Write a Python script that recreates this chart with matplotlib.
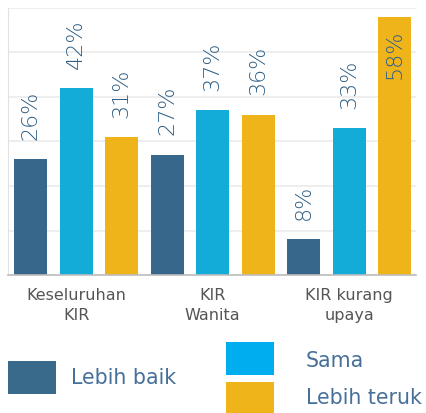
import numpy as np
import matplotlib.pyplot as plt
from matplotlib.patches import Rectangle

# data
groups = ["Keseluruhan\nKIR", "KIR\nWanita", "KIR kurang\nupaya"]
series = ["Lebih baik", "Sama", "Lebih teruk"]
lebih_baik = [26, 27, 8]
sama = [42, 37, 33]
lebih_teruk = [31, 36, 58]

colors = ["#37688b", "#13acd8", "#f0b41b"]
legend_colors = ["#3a6a8b", "#00aeef", "#f0b41b"]
label_color = "#2f5f85"

fig = plt.figure(figsize=(4.27, 4.13), dpi=100)
ax = fig.add_axes([0.0187, 0.334, 0.9553, 0.647])

vals = np.array([lebih_baik, sama, lebih_teruk])  # series x group
n_series, n_groups = vals.shape
for s in range(n_series):
    for g in range(n_groups):
        x = g * n_series + s
        v = vals[s, g]
        ax.bar(x, v, width=0.725, color=colors[s], zorder=2)
        if v + 12 > 60:
            ax.annotate(f"{v}%", (x, 60), xytext=(0, -16), textcoords="offset points",
                        rotation=90, ha="center", va="top", fontsize=16,
                        color=label_color, fontweight="light")
        else:
            ax.annotate(f"{v}%", (x, v), xytext=(0, 14), textcoords="offset points",
                        rotation=90, ha="center", va="bottom", fontsize=16,
                        color=label_color, fontweight="light")

ax.set_xlim(-0.5, 8.47)
ax.set_ylim(0, 60)
ax.set_yticks(np.arange(0, 61, 10))
ax.set_yticklabels([])
ax.yaxis.grid(True, color="#ebebeb", linewidth=1.2, zorder=0)
ax.tick_params(axis="y", length=0)
ax.set_xticks([1, 4, 7])
ax.set_xticklabels(groups, fontsize=11.5, color="#555555", linespacing=1.45)
ax.tick_params(axis="x", length=0, pad=9)
for side in ["top", "right"]:
    ax.spines[side].set_visible(False)
ax.spines["left"].set_color("#e2e2e2")
ax.spines["bottom"].set_color("#bdbdbd")
ax.spines["bottom"].set_linewidth(1.2)

# legend drawn by hand to match the layout
W, H = 427, 413
def patch(x0, y0, x1, y1, c):
    fig.add_artist(Rectangle((x0 / W, 1 - y1 / H), (x1 - x0) / W, (y1 - y0) / H,
                             transform=fig.transFigure, color=c, lw=0))

patch(8, 361, 56, 394, legend_colors[0])
patch(226, 342, 274, 375, legend_colors[1])
patch(226, 382, 274, 413, legend_colors[2])
for txt, x, y in [(series[0], 71, 378), (series[1], 306, 361), (series[2], 306, 398)]:
    fig.text(x / W, 1 - y / H, txt, fontsize=14.8, color="#46709a", va="center")

fig.savefig("out.png", dpi=100)
